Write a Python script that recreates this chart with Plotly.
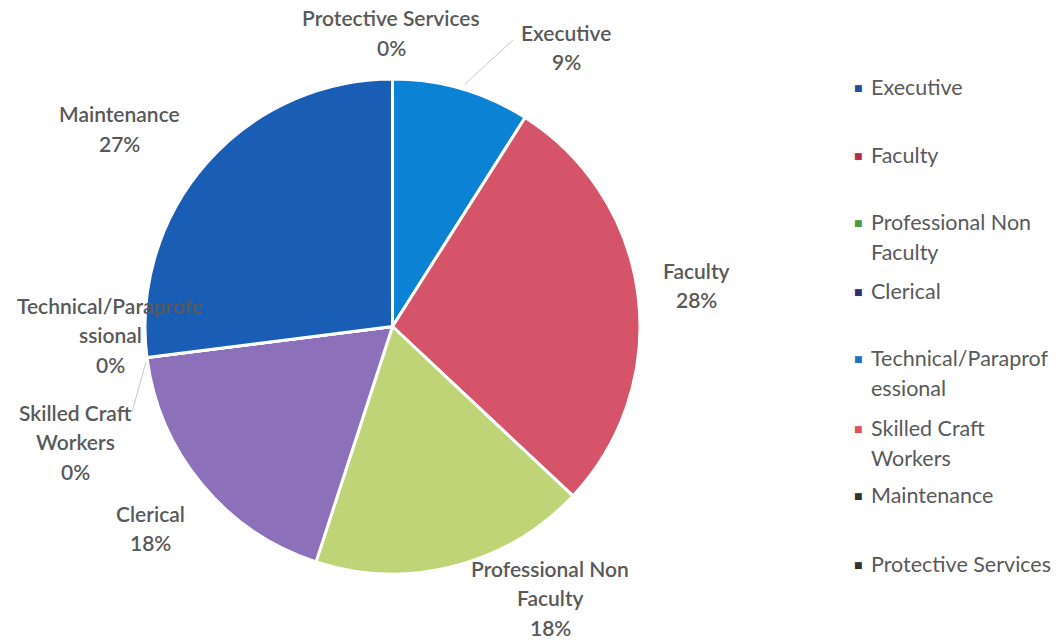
import plotly.graph_objects as go

# ---- data ----
categories = ["Executive", "Faculty", "Professional Non Faculty", "Clerical",
              "Skilled Craft Workers", "Technical/Paraprofessional", "Maintenance",
              "Protective Services"]
values = [9, 28, 18, 18, 0, 0, 27, 0]
slice_colors = ["#0B82D4", "#D5546A", "#BFD477", "#8C70BA",
                "#E05A66", "#1F70C0", "#1A5DB4", "#333333"]

legend_names = ["Executive", "Faculty", "Professional Non<br>Faculty", "Clerical",
                "Technical/Paraprof<br>essional", "Skilled Craft<br>Workers",
                "Maintenance", "Protective Services"]
legend_colors = ["#1F4E9C", "#B2304C", "#4E9A44", "#2E2E7E",
                 "#1F72C2", "#E0505E", "#333333", "#333333"]

# label text lines (category order) and label positions (px)
label_lines = {
    "Executive": ["Executive"],
    "Faculty": ["Faculty"],
    "Professional Non Faculty": ["Professional Non", "Faculty"],
    "Clerical": ["Clerical"],
    "Skilled Craft Workers": ["Skilled Craft", "Workers"],
    "Technical/Paraprofessional": ["Technical/Paraprofe", "ssional"],
    "Maintenance": ["Maintenance"],
    "Protective Services": ["Protective Services"],
}
label_pos = {
    "Executive": (566, 32),
    "Faculty": (696, 270),
    "Professional Non Faculty": (550, 568),
    "Clerical": (150, 513),
    "Skilled Craft Workers": (75, 412),
    "Technical/Paraprofessional": (110, 305),
    "Maintenance": (119, 114),
    "Protective Services": (391, 18),
}
legend_y = [87, 155, 222, 291, 358, 428, 495, 564]

W, H = 1062, 640
LINE = 29.5

def px(x):
    return x / W

def py(y):
    return 1 - y / H

fig = go.Figure()
fig.add_trace(go.Pie(
    labels=categories, values=values, sort=False, direction="clockwise",
    rotation=0, textinfo="none", showlegend=False, hoverinfo="label+percent",
    marker=dict(colors=slice_colors, line=dict(color="white", width=3)),
    domain=dict(x=[px(145), px(640)], y=[py(575), py(78)]),
))

annotations = []
total = sum(values)
lab_font = dict(family="Lato", size=21, color="#595959", weight=600)
for cat, v in zip(categories, values):
    lines = label_lines[cat] + [f"{round(100 * v / total)}%"]
    x0, y0 = label_pos[cat]
    for i, t in enumerate(lines):
        annotations.append(dict(
            x=px(x0), y=py(y0 + i * LINE), xref="paper", yref="paper",
            text=t, showarrow=False, xanchor="center", yanchor="middle",
            font=lab_font))

leg_font = dict(family="Lato", size=21.5, color="#595959")
for name, col, y in zip(legend_names, legend_colors, legend_y):
    annotations.append(dict(
        x=px(858), y=py(y + 1), xref="paper", yref="paper", text="■",
        showarrow=False, xanchor="center", yanchor="middle",
        font=dict(family="DejaVu Sans", size=9, color=col)))
    parts = name.split("<br>")
    for i, t in enumerate(parts):
        annotations.append(dict(
            x=px(869), y=py(y + i * 30), xref="paper", yref="paper", text=t,
            showarrow=False, xanchor="left", yanchor="middle", font=leg_font))

shapes = [
    dict(type="line", xref="paper", yref="paper", x0=px(513), y0=py(40),
         x1=px(465), y1=py(84), line=dict(color="#C8C8C8", width=1)),
    dict(type="line", xref="paper", yref="paper", x0=px(132), y0=py(412),
         x1=px(146), y1=py(362), line=dict(color="#C8C8C8", width=1)),
]

fig.update_layout(
    width=W, height=H, margin=dict(l=0, r=0, t=0, b=0),
    paper_bgcolor="white", plot_bgcolor="white",
    annotations=annotations, shapes=shapes, showlegend=False,
)
fig.write_html("out.html")
